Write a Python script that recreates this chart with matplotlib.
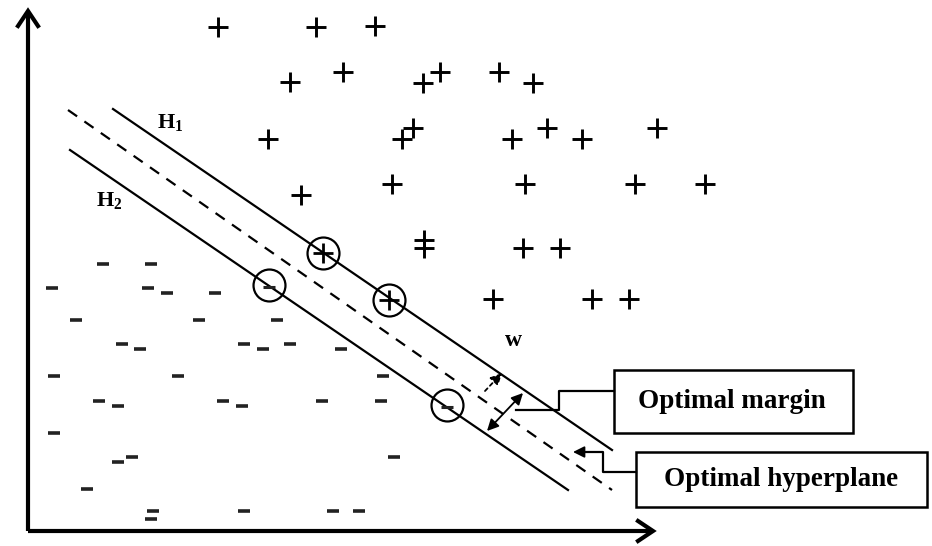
import matplotlib
matplotlib.use("Agg")
import matplotlib.pyplot as plt

plt.rcParams["mathtext.fontset"] = "custom"
plt.rcParams["mathtext.rm"] = "Liberation Serif:bold"

# positive class (pixel-ish coordinates, y grows downward)
plus_x = [218, 316, 375, 290, 343, 423, 440, 499, 533, 268, 402, 413, 512, 547, 582, 657,
          301, 392, 525, 635, 705, 424, 424, 523, 560, 493, 592, 629]
plus_y = [27, 27, 26, 82, 72, 83, 72, 72, 83, 139, 139, 128, 139, 128, 139, 128,
          195, 184, 184, 184, 184, 240, 248, 248, 248, 299, 299, 299]

# negative class
minus_x = [103, 151, 52, 148, 167, 215, 76, 199, 277, 122, 140, 244, 263, 290, 341,
           54, 178, 383, 99, 118, 223, 242, 322, 381, 54, 118, 132, 394, 87,
           153, 151, 244, 333, 359]
minus_y = [264, 264, 288, 288, 293, 293, 320, 320, 320, 344, 349, 344, 349, 344, 349,
           376, 376, 376, 401, 406, 401, 406, 401, 401, 433, 462, 457, 457, 489,
           511, 519, 511, 511, 511]

# support vectors
sv_plus_x = [323, 389]
sv_plus_y = [253, 300]
sv_minus_x = [269, 447]
sv_minus_y = [285, 405]

# hyperplanes (end points)
h1_x, h1_y = [113, 612], [109, 450]
hyp_x, hyp_y = [68, 612], [110, 490]
h2_x, h2_y = [70, 568], [150, 490]

fig = plt.figure(figsize=(9.32, 5.46), dpi=100)
ax = fig.add_axes([0, 0, 1, 1])
ax.set_xlim(0, 932)
ax.set_ylim(546, 0)
ax.axis("off")

serif = "Liberation Serif"

# axes arrows
ax.plot([28, 28], [531, 14], color="black", lw=3, solid_capstyle="butt")
ax.plot([28, 651], [531, 531], color="black", lw=3, solid_capstyle="butt")
ax.plot([18, 28, 38], [26, 11, 26], color="black", lw=3, solid_joinstyle="miter")
ax.plot([638, 653, 638], [521, 531, 541], color="black", lw=3, solid_joinstyle="miter")

# hyperplanes
ax.plot(h1_x, h1_y, color="black", lw=1.6)
ax.plot(h2_x, h2_y, color="black", lw=1.6)
ax.plot(hyp_x, hyp_y, color="black", lw=1.6, dashes=(5, 4))

# points
ax.plot(plus_x, plus_y, "+", color="black", ms=14, mew=2.1, ls="none")
ax.plot(minus_x, minus_y, "_", color="#222222", ms=8.5, mew=2.6, ls="none")
ax.plot(sv_plus_x, sv_plus_y, "+", color="black", ms=14, mew=2.0, ls="none")
ax.plot(sv_minus_x, [y + 2 for y in sv_minus_y], "_", color="#222222", ms=8, mew=2.2, ls="none")
ax.plot(sv_plus_x + sv_minus_x, sv_plus_y + sv_minus_y, "o", mfc="none", mec="black",
        ms=23, mew=1.6, ls="none")

# labels
ax.text(170, 123, r"$\mathrm{H}_\mathrm{1}$", fontsize=16, ha="center", va="center")
ax.text(109, 201, r"$\mathrm{H}_\mathrm{2}$", fontsize=16, ha="center", va="center")
ax.text(513, 341, "w", fontsize=17, fontweight="bold", family=serif, ha="center", va="center")

# margin arrows
ax.annotate("", xy=(502, 373), xytext=(485, 391),
            arrowprops=dict(arrowstyle="-|>", color="black", lw=1.3, ls=(0, (2, 2)),
                            mutation_scale=17, shrinkA=0, shrinkB=0))
ax.annotate("", xy=(523, 393), xytext=(487, 431),
            arrowprops=dict(arrowstyle="<|-|>", color="black", lw=1.3,
                            mutation_scale=17, shrinkA=0, shrinkB=0))

# callouts
ax.plot([614, 559, 559, 516], [391, 391, 410, 410], color="black", lw=1.6)
ax.plot([636, 603, 603, 585], [472, 472, 452, 452], color="black", lw=1.6)
ax.annotate("", xy=(573, 452), xytext=(590, 452),
            arrowprops=dict(arrowstyle="-|>", color="black", lw=1.3,
                            mutation_scale=17, shrinkA=0, shrinkB=0))

ax.add_patch(plt.Rectangle((614, 370), 239, 63, fill=False, ec="black", lw=1.8))
ax.add_patch(plt.Rectangle((636, 452), 291, 55, fill=False, ec="black", lw=1.8))
ax.text(732, 401, "Optimal margin", fontsize=19.5, fontweight="bold", family=serif,
        ha="center", va="center")
ax.text(781, 479, "Optimal hyperplane", fontsize=19.5, fontweight="bold", family=serif,
        ha="center", va="center")

fig.savefig("out.png", dpi=100)
